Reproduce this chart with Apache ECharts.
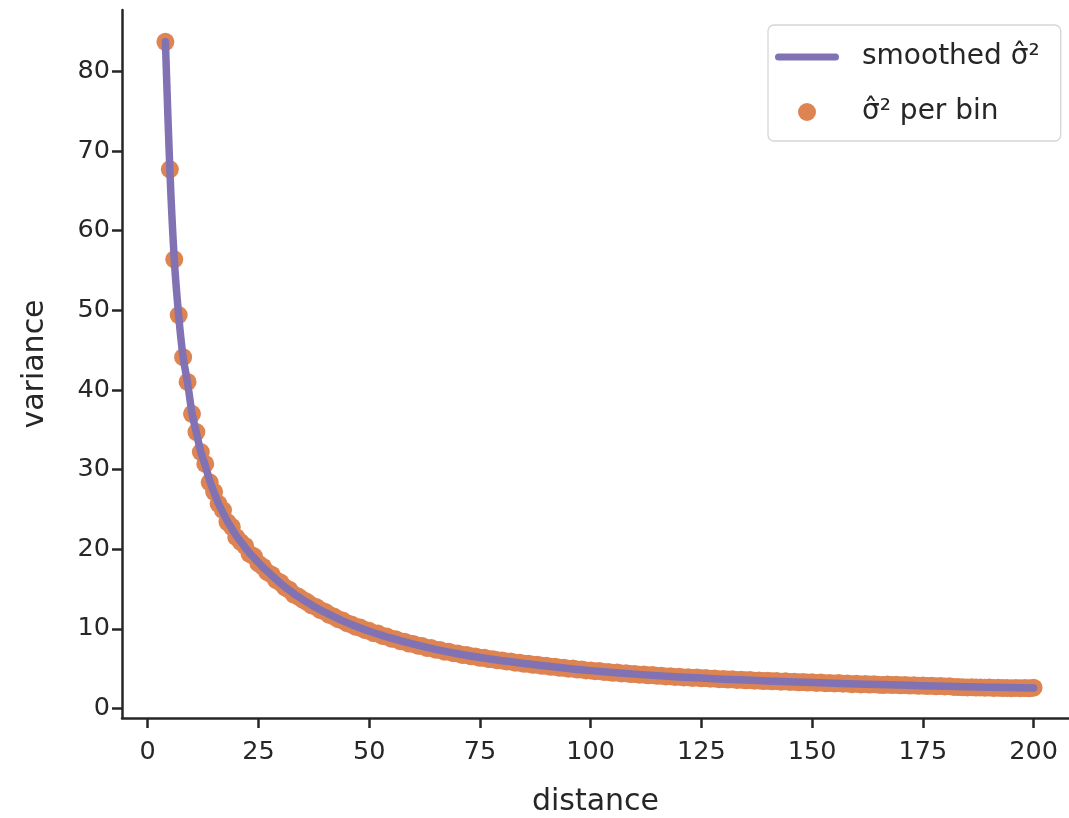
<!DOCTYPE html>
<html>
<head>
<meta charset="utf-8">
<script src="https://cdn.jsdelivr.net/npm/echarts@6/dist/echarts.min.js"></script>
<style>
html,body{margin:0;padding:0;background:#fff;}
#chart{width:1069px;height:818px;}
</style>
</head>
<body>
<div id="chart"></div>
<script>
// distance bins (x) for the per-bin estimates
const binDistance = [];
for (let d = 4; d <= 200; d++) binDistance.push(d);

// per-bin variance estimates (x = 4 .. 200)
const binVariance = [
  83.7, 67.7, 56.4, 49.4, 44.1, 41.0, 37.0, 34.7, 32.2, 30.7,
  28.4, 27.2, 25.7, 24.9, 23.4, 22.8, 21.5, 20.9, 20.4, 19.4,
  19.1, 18.2, 17.8, 17.1, 16.8, 16.1, 15.8, 15.2, 14.9, 14.3,
  14.05, 13.65, 13.35, 12.95, 12.75, 12.35, 12.15, 11.75, 11.55, 11.2,
  11.05, 10.7, 10.55, 10.25, 10.15, 9.85, 9.75, 9.45, 9.4, 9.1,
  9.02, 8.75, 8.7, 8.45, 8.38, 8.15, 8.1, 7.88, 7.83, 7.6,
  7.58, 7.38, 7.34, 7.12, 7.12, 6.93, 6.9, 6.72, 6.7, 6.54,
  6.53, 6.36, 6.35, 6.2, 6.19, 6.04, 6.03, 5.9, 5.88, 5.74,
  5.75, 5.61, 5.62, 5.48, 5.49, 5.35, 5.37, 5.23, 5.24, 5.1,
  5.12, 4.99, 5.0, 4.88, 4.89, 4.77, 4.78, 4.67, 4.69, 4.58,
  4.59, 4.48, 4.5, 4.4, 4.42, 4.32, 4.34, 4.24, 4.26, 4.16,
  4.19, 4.09, 4.12, 4.02, 4.05, 3.96, 3.98, 3.9, 3.92, 3.83,
  3.87, 3.78, 3.81, 3.73, 3.76, 3.68, 3.71, 3.62, 3.66, 3.58,
  3.61, 3.53, 3.57, 3.49, 3.52, 3.44, 3.48, 3.4, 3.44, 3.36,
  3.4, 3.32, 3.36, 3.28, 3.32, 3.25, 3.28, 3.21, 3.25, 3.17,
  3.21, 3.14, 3.18, 3.1, 3.14, 3.05, 3.1, 3.02, 3.08, 3.0,
  3.05, 2.98, 2.94, 3.0, 2.93, 2.97, 2.9, 2.93, 2.87, 2.9,
  2.84, 2.88, 2.81, 2.85, 2.78, 2.82, 2.76, 2.79, 2.7, 2.68,
  2.67, 2.64, 2.66, 2.62, 2.64, 2.6, 2.62, 2.58, 2.6, 2.56,
  2.58, 2.55, 2.57, 2.54, 2.56, 2.53, 2.6
];

// smoothed curve at selected distances
const smoothDistance = [4, 5, 6, 7, 8, 9, 10, 11, 12, 13, 14, 15, 16, 17, 18, 19, 20, 21, 22, 23, 24, 25, 26, 27, 28, 29, 30, 31, 32, 33, 34, 35, 36, 37, 38, 39, 40, 42, 44, 46, 48, 50, 55, 60, 65, 70, 75, 80, 85, 90, 95, 100, 110, 120, 130, 140, 150, 160, 170, 180, 190, 200];
const smoothVariance = [83.7, 67.7, 56.4, 49.3, 44.1, 40.9, 37.1, 34.6, 32.2, 30.5, 28.6, 27.1, 25.7, 24.59, 23.5, 22.58, 21.7, 20.95, 20.23, 19.52, 18.92, 18.32, 17.73, 17.22, 16.71, 16.21, 15.7, 15.26, 14.84, 14.42, 14.03, 13.66, 13.33, 13.0, 12.66, 12.36, 12.08, 11.52, 11.0, 10.54, 10.1, 9.7, 8.82, 8.07, 7.42, 6.86, 6.4, 6.0, 5.65, 5.33, 5.02, 4.75, 4.31, 3.95, 3.68, 3.45, 3.25, 3.08, 2.93, 2.79, 2.67, 2.58];

const xTicks = [0, 25, 50, 75, 100, 125, 150, 175, 200];
const yTicks = [0, 10, 20, 30, 40, 50, 60, 70, 80];

const lineName = 'smoothed \u03C3\u0302\u00B2';
const dotName = '\u03C3\u0302\u00B2 per bin';

const scatterData = binDistance.map((d, i) => [d, binVariance[i]]);
const lineData = smoothDistance.map((d, i) => [d, smoothVariance[i]]);

const ink = '#262626';
const font = 'DejaVu Sans';

const chart = echarts.init(document.getElementById('chart'), null, {renderer: 'canvas'});
chart.setOption({
  animation: false,
  backgroundColor: '#ffffff',
  grid: {left: 122, right: 0, top: 10, bottom: 100, containLabel: false, outerBoundsMode: 'none'},
  xAxis: {
    type: 'value', min: -5.8, max: 208,
    name: 'distance', nameLocation: 'middle', nameGap: 69,
    nameTextStyle: {fontFamily: font, fontSize: 30, color: ink},
    axisLine: {show: true, onZero: false, lineStyle: {color: ink, width: 2.5}},
    axisTick: {show: true, length: 10, customValues: xTicks, lineStyle: {color: ink, width: 2.5}},
    axisLabel: {customValues: xTicks, fontFamily: font, fontSize: 25.5, color: ink, margin: 21},
    splitLine: {show: false}
  },
  yAxis: {
    type: 'value', min: -1.2, max: 87.7,
    name: 'variance', nameLocation: 'middle', nameGap: 72,
    nameTextStyle: {fontFamily: font, fontSize: 30, color: ink},
    axisLine: {show: true, onZero: false, lineStyle: {color: ink, width: 2.5}},
    axisTick: {show: true, length: 10, customValues: yTicks, lineStyle: {color: ink, width: 2.5}},
    axisLabel: {customValues: yTicks, fontFamily: font, fontSize: 25.5, color: ink, margin: 12},
    splitLine: {show: false}
  },
  legend: {
    orient: 'vertical', left: 768, top: 25,
    padding: [18, 21, 15, 7],
    backgroundColor: '#ffffff',
    borderColor: '#d6d6d6', borderWidth: 1.3, borderRadius: 6,
    itemWidth: 64, itemHeight: 18, itemGap: 27,
    textStyle: {fontFamily: font, fontSize: 28, color: ink, padding: [0, 0, 0, 18]},
    data: [
      {name: lineName, icon: 'path://M3.5,0 L60.5,0 A3.5,3.5 0 0 1 60.5,7 L3.5,7 A3.5,3.5 0 0 1 3.5,0 Z', itemStyle: {color: '#8172B3'}},
      {name: dotName, icon: 'circle'}
    ]
  },
  series: [
    {
      name: dotName, type: 'scatter', data: scatterData,
      symbol: 'circle', symbolSize: 18, z: 2,
      itemStyle: {color: '#DD8452', opacity: 1}
    },
    {
      name: lineName, type: 'line', data: lineData,
      symbol: 'none', showSymbol: false, smooth: 0.3, z: 3,
      lineStyle: {color: '#8172B3', width: 7.5, cap: 'round', join: 'round'},
      itemStyle: {color: '#8172B3'}
    }
  ]
});
</script>
</body>
</html>
